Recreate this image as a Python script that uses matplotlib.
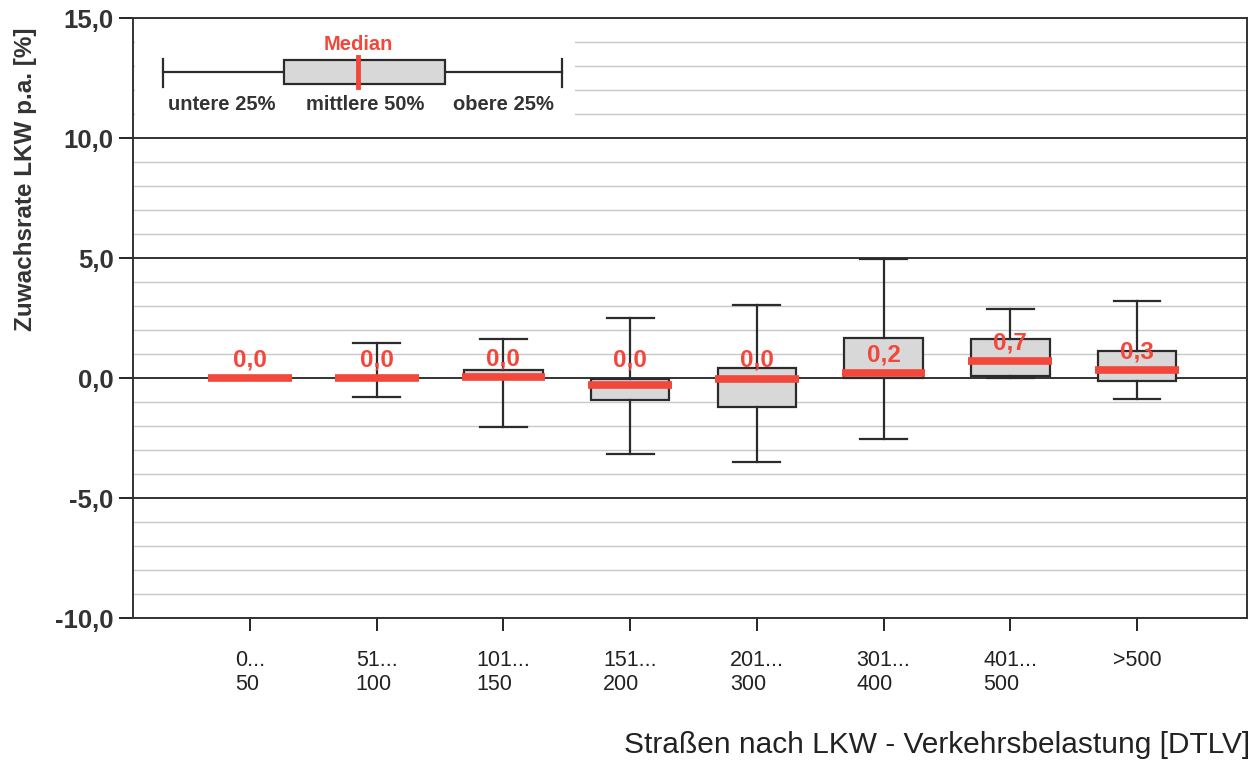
import matplotlib
matplotlib.use("Agg")
import matplotlib.pyplot as plt
from matplotlib.patches import Rectangle
from matplotlib.ticker import MultipleLocator, FixedLocator

plt.rcParams['font.family'] = ['Liberation Sans', 'DejaVu Sans']

# ---- data ----
categories = ["0...\n50", "51...\n100", "101...\n150", "151...\n200",
              "201...\n300", "301...\n400", "401...\n500", ">500"]
whisker_low = [0.0, -0.79, -2.03, -3.18, -3.50, -2.54, 0.0, -0.86]
q1 = [0.0, 0.0, 0.0, -0.90, -1.21, 0.0, 0.08, -0.11]
median = [0.0, 0.0, 0.06, -0.29, -0.03, 0.20, 0.71, 0.32]
q3 = [0.0, 0.0, 0.33, -0.05, 0.40, 1.67, 1.61, 1.14]
whisker_high = [0.0, 1.45, 1.61, 2.49, 3.03, 4.96, 2.86, 3.22]
median_labels = ["0,0", "0,0", "0,0", "0,0", "0,0", "0,2", "0,7", "0,3"]
y_ticks = [-10, -5, 0, 5, 10, 15]
y_ticklabels = ["-10,0", "-5,0", "0,0", "5,0", "10,0", "15,0"]

RED = "#f2473a"
DARK = "#2b2b2b"

fig = plt.figure(figsize=(12.58, 7.61), dpi=100)
ax = fig.add_axes([133/1258, 1 - 618/761, (1247-133)/1258, 600/761])

pos = list(range(1, len(categories) + 1))
stats = []
for i in range(len(categories)):
    stats.append(dict(med=median[i], q1=q1[i], q3=q3[i],
                      whislo=whisker_low[i], whishi=whisker_high[i], fliers=[]))

ax.bxp(stats, positions=pos, widths=0.62, capwidths=0.37, patch_artist=True,
       showfliers=False,
       boxprops=dict(facecolor="#d8d8d8", edgecolor=DARK, linewidth=1.6),
       whiskerprops=dict(color=DARK, linewidth=1.6),
       capprops=dict(color=DARK, linewidth=1.6),
       medianprops=dict(linewidth=0), zorder=3)
ax.hlines(median, [p - 0.33 for p in pos], [p + 0.33 for p in pos],
          colors=RED, linewidth=5.5, zorder=5)
for p, m, lab in zip(pos, median, median_labels):
    ax.text(p, max(m, 0) + 0.75, lab, color=RED, fontsize=17.5, fontweight='bold',
            ha='center', va='center', zorder=6)

ax.set_xlim(1 - 117/126.7, 8 + 110/126.7)
ax.set_ylim(-10, 15)
ax.yaxis.set_major_locator(FixedLocator(y_ticks))
ax.set_yticklabels(y_ticklabels, fontsize=18.5, fontweight='bold', color="#333333")
ax.yaxis.set_minor_locator(MultipleLocator(1))
ax.tick_params(axis='y', which='major', length=10, width=1.2, direction='out', pad=4)
ax.tick_params(axis='y', which='minor', length=0)
ax.set_xticks(pos)
ax.set_xticklabels(categories, fontsize=15.5, color="#222222", multialignment='left',
                   linespacing=1.2)
ax.tick_params(axis='x', length=9, width=1.2, direction='out', pad=14)

ax.grid(which='minor', axis='y', color="#c8c8c8", linewidth=1.0, zorder=0)
ax.grid(which='major', axis='y', color="#333333", linewidth=1.4, zorder=1)
ax.set_axisbelow(True)
for s in ax.spines.values():
    s.set_color("#333333")
    s.set_linewidth(1.4)

ax.set_ylabel("Zuwachsrate LKW p.a. [%]", fontsize=17.5, fontweight='bold', color="#333333")
ax.yaxis.set_label_coords(-0.086, 0.732)
fig.text(1250/1258, 1 - 745/761, "Straßen nach LKW - Verkehrsbelastung [DTLV]",
         ha='right', va='center', fontsize=21.5, color="#222222")

# ---- legend inset ----
lax = fig.add_axes([135/1258, 1 - 125/761, 440/1258, 105/761], zorder=10)
lax.set_xlim(0, 440)
lax.set_ylim(105, 0)
lax.set_facecolor("white")
lax.axis('off')
lax.add_patch(Rectangle((0, 0), 440, 105, facecolor='white', edgecolor='none', zorder=0))
lax.plot([28, 149], [52, 52], color=DARK, lw=1.6)
lax.plot([310, 427], [52, 52], color=DARK, lw=1.6)
lax.plot([28, 28], [39, 67], color=DARK, lw=1.6)
lax.plot([427, 427], [39, 67], color=DARK, lw=1.6)
lax.add_patch(Rectangle((149, 40), 161, 24, facecolor="#d8d8d8", edgecolor=DARK, lw=1.6, zorder=2))
lax.plot([223, 223], [37, 67], color=RED, lw=3.5, zorder=3)
lax.text(223, 24, "Median", color=RED, fontsize=14.5, fontweight='bold', ha='center', va='center')
for x, t in [(87, "untere 25%"), (230, "mittlere 50%"), (368, "obere 25%")]:
    lax.text(x, 84, t, color="#333333", fontsize=14.5, fontweight='bold', ha='center', va='center')

fig.savefig("out.png", dpi=100)
